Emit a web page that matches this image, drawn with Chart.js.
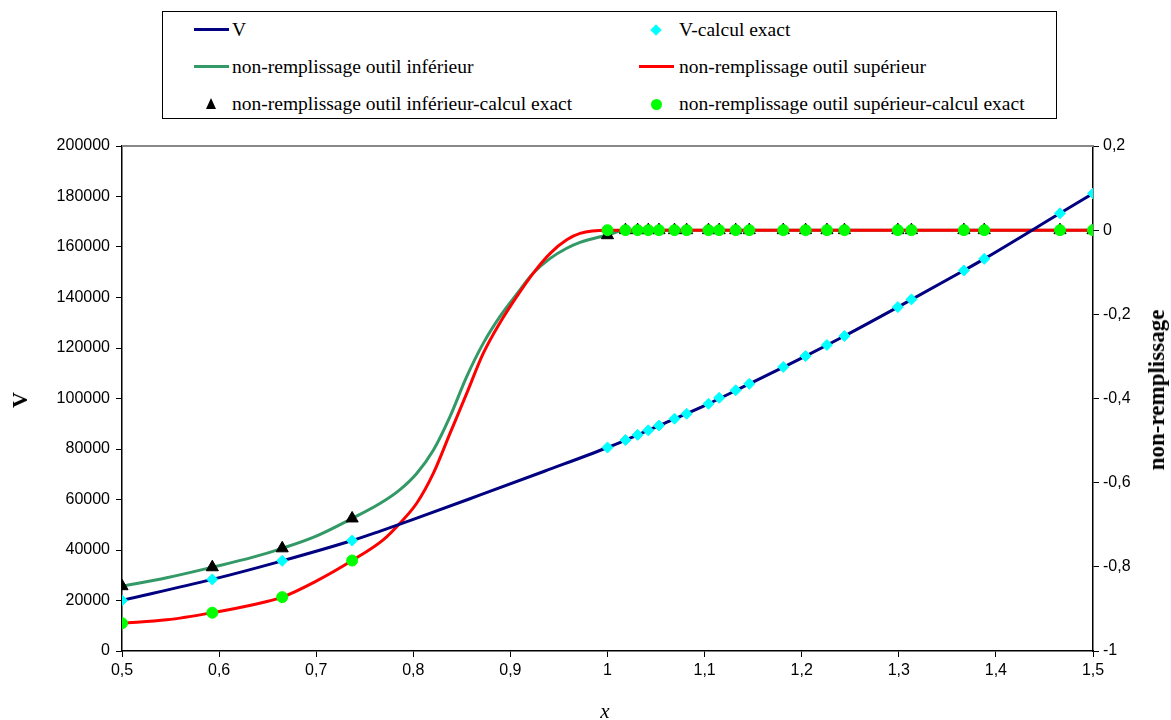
<!DOCTYPE html>
<html>
<head>
<meta charset="utf-8">
<script src="https://cdn.jsdelivr.net/npm/chart.js@4/dist/chart.umd.min.js"></script>
<style>
    body { margin: 0; background: #fff; }
    #wrap { position: relative; width: 1171px; height: 720px; overflow: hidden; }
    #chart { position: absolute; left: 0; top: 0; }
    .legend {
        position: absolute; left: 162px; top: 11px; width: 893px; height: 106px;
        border: 1px solid #000; background: #fff;
        font-family: "Liberation Serif", "Times New Roman", serif; font-size: 19.5px; color: #000;
    }
    .item { position: absolute; height: 24px; line-height: 24px; white-space: nowrap; }
    .sym { position: absolute; top: 0; width: 35px; height: 24px; }
    .txt { position: absolute; top: 0; }
    .line { position: absolute; left: 0; top: 10px; width: 35px; height: 3px; }
    .diamond { position: absolute; left: 13px; top: 8px; width: 8px; height: 8px; background: #00ffff; transform: rotate(45deg); }
    .tri { position: absolute; left: 12px; top: 6px; width: 0; height: 0;
           border-left: 5.5px solid transparent; border-right: 5.5px solid transparent; border-bottom: 11px solid #000; }
    .dot { position: absolute; left: 12px; top: 7px; width: 11px; height: 11px; border-radius: 50%; background: #00ff00; }
    .axis-title { position: absolute; font-family: "Liberation Serif", "Times New Roman", serif; color: #000; white-space: nowrap; }
</style>
</head>
<body>
<div id="wrap">
    <canvas id="chart" width="1171" height="720"></canvas>

    <div class="legend">
        <div class="item" style="left:31px; top:6px;">
            <div class="sym"><div class="line" style="background:#000080"></div></div>
            <div class="txt" style="left:38px">V</div>
        </div>
        <div class="item" style="left:476px; top:6px;">
            <div class="sym"><div class="diamond"></div></div>
            <div class="txt" style="left:40px">V-calcul exact</div>
        </div>
        <div class="item" style="left:31px; top:43px;">
            <div class="sym"><div class="line" style="background:#339966"></div></div>
            <div class="txt" style="left:38px">non-remplissage outil inférieur</div>
        </div>
        <div class="item" style="left:476px; top:43px;">
            <div class="sym"><div class="line" style="background:#ff0000"></div></div>
            <div class="txt" style="left:40px">non-remplissage outil supérieur</div>
        </div>
        <div class="item" style="left:31px; top:80px;">
            <div class="sym"><div class="tri"></div></div>
            <div class="txt" style="left:38px">non-remplissage outil inférieur-calcul exact</div>
        </div>
        <div class="item" style="left:476px; top:80px;">
            <div class="sym"><div class="dot"></div></div>
            <div class="txt" style="left:40px">non-remplissage outil supérieur-calcul exact</div>
        </div>
    </div>

    <div class="axis-title" style="left:20px; top:400px; font-size:22px; font-weight:bold; transform:translate(-50%,-50%) rotate(-90deg);">V</div>
    <div class="axis-title" style="left:1157px; top:390px; font-size:23px; font-weight:bold; transform:translate(-50%,-50%) rotate(-90deg);">non-remplissage</div>
    <div class="axis-title" style="left:605px; top:711px; font-size:21px; font-style:italic; transform:translate(-50%,-50%);">x</div>
</div>

<script>
// --- x positions of the exact calculations ---
const xExact = [0.5, 0.593, 0.665, 0.737, 1.0, 1.0185, 1.031, 1.042, 1.053, 1.069, 1.0815, 1.104, 1.115,
                1.132, 1.146, 1.181, 1.204, 1.226, 1.244, 1.299, 1.313, 1.367, 1.388, 1.466, 1.5];

// --- V (left axis) ---
const vExact = [20040, 28350, 35700, 43750, 80600, 83550, 85600, 87400, 89300, 92000, 93950, 97900, 100250,
                103250, 105800, 112500, 116800, 121200, 124750, 136200, 139250, 150700, 155300, 173350, 181200];
const vLineX = [0.5, 0.593, 0.665, 0.737, 0.766, 0.8, 0.869, 0.935, 1.0, 1.053, 1.104, 1.146, 1.204, 1.244,
                1.299, 1.367, 1.388, 1.466, 1.5];
const vLineY = [20040, 28350, 35700, 43750, 47500, 52100, 61800, 71200, 80600, 89300, 97900, 105800, 116800,
                124750, 136200, 150700, 155300, 173350, 181200];

// --- non-remplissage outil inférieur (right axis) ---
const infLineX = [0.5, 0.546, 0.593, 0.635, 0.665, 0.7, 0.737, 0.766, 0.786, 0.8035, 0.8206, 0.8378, 0.855,
                  0.872, 0.889, 0.9065, 0.9236, 0.941, 0.958, 0.9717, 1.0, 1.0185, 1.5];
const infLineY = [-0.846, -0.826, -0.801, -0.777, -0.756, -0.727, -0.685, -0.649, -0.617, -0.578, -0.523, -0.443,
                  -0.348, -0.269, -0.206, -0.152, -0.102, -0.067, -0.043, -0.029, -0.0115, 0, 0];
const infExact = [-0.846, -0.801, -0.756, -0.685, -0.012, 0, 0, 0, 0, 0, 0, 0, 0,
                  0, 0, 0, 0, 0, 0, 0, 0, 0, 0, 0, 0];

// --- non-remplissage outil supérieur (right axis) ---
const supLineX = [0.5, 0.546, 0.593, 0.635, 0.665, 0.7, 0.737, 0.769, 0.786, 0.8035, 0.8206, 0.8378, 0.855,
                  0.872, 0.889, 0.9065, 0.9236, 0.941, 0.958, 0.9717, 1.0, 1.0185, 1.5];
const supLineY = [-0.934, -0.926, -0.909, -0.890, -0.872, -0.834, -0.785, -0.736, -0.697, -0.649, -0.578, -0.483,
                  -0.388, -0.293, -0.221, -0.158, -0.102, -0.055, -0.023, -0.0076, 0, 0, 0];
const supExact = [-0.934, -0.909, -0.872, -0.785, 0, 0, 0, 0, 0, 0, 0, 0, 0,
                  0, 0, 0, 0, 0, 0, 0, 0, 0, 0, 0, 0];

const pts = (xs, ys) => xs.map((x, i) => ({ x: x, y: ys[i] }));
const comma = v => (Math.round(v * 10) / 10).toString().replace('.', ',');
const tickFont = { family: '"Liberation Sans", Arial, sans-serif', size: 16 };

// top border of the plot area (grey line)
const topBorder = {
    id: 'topBorder',
    beforeDatasetsDraw(chart) {
        const a = chart.chartArea, ctx = chart.ctx;
        ctx.save();
        ctx.strokeStyle = '#888';
        ctx.lineWidth = 2;
        ctx.beginPath();
        ctx.moveTo(a.left, a.top);
        ctx.lineTo(a.right, a.top);
        ctx.stroke();
        ctx.restore();
    }
};

new Chart(document.getElementById('chart'), {
    type: 'scatter',
    data: {
        datasets: [
            {
                label: 'non-remplissage outil supérieur-calcul exact',
                data: pts(xExact, supExact), yAxisID: 'y2',
                pointStyle: 'circle', pointRadius: 5.5,
                backgroundColor: '#00ff00', borderColor: '#00ff00', order: 0
            },
            {
                label: 'non-remplissage outil inférieur-calcul exact',
                data: pts(xExact, infExact), yAxisID: 'y2',
                pointStyle: 'triangle', pointRadius: 7,
                backgroundColor: '#000', borderColor: '#000', order: 1
            },
            {
                label: 'V-calcul exact',
                data: pts(xExact, vExact), yAxisID: 'y',
                pointStyle: 'rectRot', pointRadius: 5.5,
                backgroundColor: '#00ffff', borderColor: '#00ffff', order: 2
            },
            {
                label: 'V',
                data: pts(vLineX, vLineY), yAxisID: 'y',
                showLine: true, pointRadius: 0, borderWidth: 3,
                borderColor: '#000080', cubicInterpolationMode: 'monotone', order: 3
            },
            {
                label: 'non-remplissage outil supérieur',
                data: pts(supLineX, supLineY), yAxisID: 'y2',
                showLine: true, pointRadius: 0, borderWidth: 3,
                borderColor: '#ff0000', cubicInterpolationMode: 'monotone', order: 4
            },
            {
                label: 'non-remplissage outil inférieur',
                data: pts(infLineX, infLineY), yAxisID: 'y2',
                showLine: true, pointRadius: 0, borderWidth: 3,
                borderColor: '#339966', cubicInterpolationMode: 'monotone', order: 5
            }
        ]
    },
    options: {
        responsive: false,
        animation: false,
        layout: { padding: { top: 146, left: 0, right: 0, bottom: 0 } },
        plugins: { legend: { display: false }, tooltip: { enabled: false } },
        scales: {
            x: {
                type: 'linear', min: 0.5, max: 1.5,
                ticks: { stepSize: 0.1, callback: comma, font: tickFont, color: '#000', padding: 4, maxRotation: 0 },
                grid: { drawOnChartArea: false, tickLength: 6, color: '#000' },
                border: { color: '#000', width: 1.5 },
                afterFit: s => { s.height = 69; }
            },
            y: {
                position: 'left', min: 0, max: 200000,
                ticks: { stepSize: 20000, callback: v => String(v), font: tickFont, color: '#000', padding: 6 },
                grid: { drawOnChartArea: false, tickLength: 6, color: '#000' },
                border: { color: '#000', width: 1.5 },
                afterFit: s => { s.width = 122; }
            },
            y2: {
                position: 'right', min: -1, max: 0.2,
                ticks: { stepSize: 0.2, callback: comma, font: tickFont, color: '#000', padding: 4 },
                grid: { drawOnChartArea: false, tickLength: 6, color: '#000' },
                border: { color: '#000', width: 1.5 },
                afterFit: s => { s.width = 78; }
            }
        }
    },
    plugins: [topBorder]
});
</script>
</body>
</html>
